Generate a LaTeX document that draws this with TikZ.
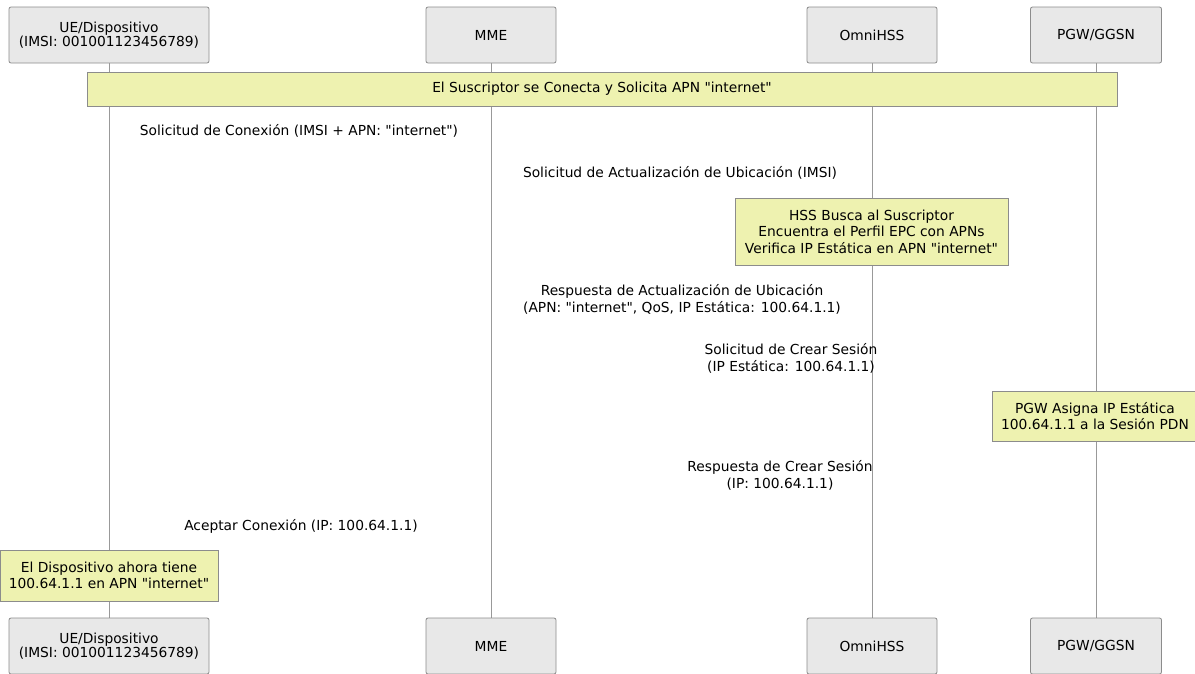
\documentclass[tikz,border=0pt]{standalone}
\usepackage{fontspec}
\setmainfont{DejaVu Sans}
\newcommand{\qq}{\textquotedbl}
\begin{document}
\begin{tikzpicture}[x=1pt,y=-1pt,
  actor/.style={draw=black!45,fill=black!9,rounded corners=2pt,line width=0.8pt,
    minimum width=#1,minimum height=56pt,inner sep=0pt,align=center,font=\fontsize{13.8}{14}\selectfont},
  notebox/.style={draw=black!45,fill=notefill,line width=0.8pt,inner sep=0pt,align=center,
    font=\fontsize{13.8}{16.5}\selectfont},
  msg/.style={inner sep=0pt,align=center,font=\fontsize{13.8}{17}\selectfont},
  life/.style={draw=black!40,line width=0.8pt}]
\definecolor{notefill}{RGB}{238,242,176}
\useasboundingbox (0,0) rectangle (1195,673);
\begin{scope}
\clip (0,0) rectangle (1195,673);
% lifelines
\coordinate (l1t) at (109,63); \coordinate (l1b) at (109,618);
\coordinate (l2t) at (491,63); \coordinate (l2b) at (491,618);
\coordinate (l3t) at (872,63); \coordinate (l3b) at (872,618);
\coordinate (l4t) at (1096,63); \coordinate (l4b) at (1096,618);
\draw[life] (l1t) -- (l1b);
\draw[life] (l2t) -- (l2b);
\draw[life] (l3t) -- (l3b);
\draw[life] (l4t) -- (l4b);
% top actors
\node[actor=200pt] (ue) at (109,35) {UE/Dispositivo\\(IMSI: 001001123456789)};
\node[actor=130pt] (mme) at (491,35) {MME};
\node[actor=130pt] (hss) at (872,35) {OmniHSS};
\node[actor=131pt] (pgw) at (1096,35) {PGW/GGSN};
% bottom actors
\node[actor=200pt] (ueb) at (109,646) {UE/Dispositivo\\(IMSI: 001001123456789)};
\node[actor=130pt] (mmeb) at (491,646) {MME};
\node[actor=130pt] (hssb) at (872,646) {OmniHSS};
\node[actor=131pt] (pgwb) at (1096,646) {PGW/GGSN};
% notes
\node[notebox,minimum width=1030pt,minimum height=34pt] (n0) at (602,89) {El Suscriptor se Conecta y Solicita APN \qq internet\qq};
\node[notebox,minimum width=273pt,minimum height=67pt] (n1) at (871.5,231.5) {HSS Busca al Suscriptor\\Encuentra el Perfil EPC con APNs\\Verifica IP Estática en APN \qq internet\qq};
\node[notebox,minimum width=206pt,minimum height=50pt] (n2) at (1095,416) {PGW Asigna IP Estática\\100.64.1.1 a la Sesión PDN};
\node[notebox,minimum width=218pt,minimum height=51pt] (n3) at (109,575.5) {El Dispositivo ahora tiene\\100.64.1.1 en APN \qq internet\qq};
% messages (labels only)
\node[msg] (m1) at (299,131) {Solicitud de Conexión (IMSI + APN: \qq internet\qq)};
\node[msg] (m2) at (680,173) {Solicitud de Actualización de Ubicación (IMSI)};
\node[msg] (m3) at (682,299.5) {Respuesta de Actualización de Ubicación\\(APN: \qq internet\qq, QoS, IP Estática: 100.64.1.1)};
\node[msg] (m4) at (791,358) {Solicitud de Crear Sesión\\(IP Estática: 100.64.1.1)};
\node[msg] (m5) at (780,475) {Respuesta de Crear Sesión\\(IP: 100.64.1.1)};
\node[msg] (m6) at (301,526) {Aceptar Conexión (IP: 100.64.1.1)};
\end{scope}
\end{tikzpicture}
\end{document}
